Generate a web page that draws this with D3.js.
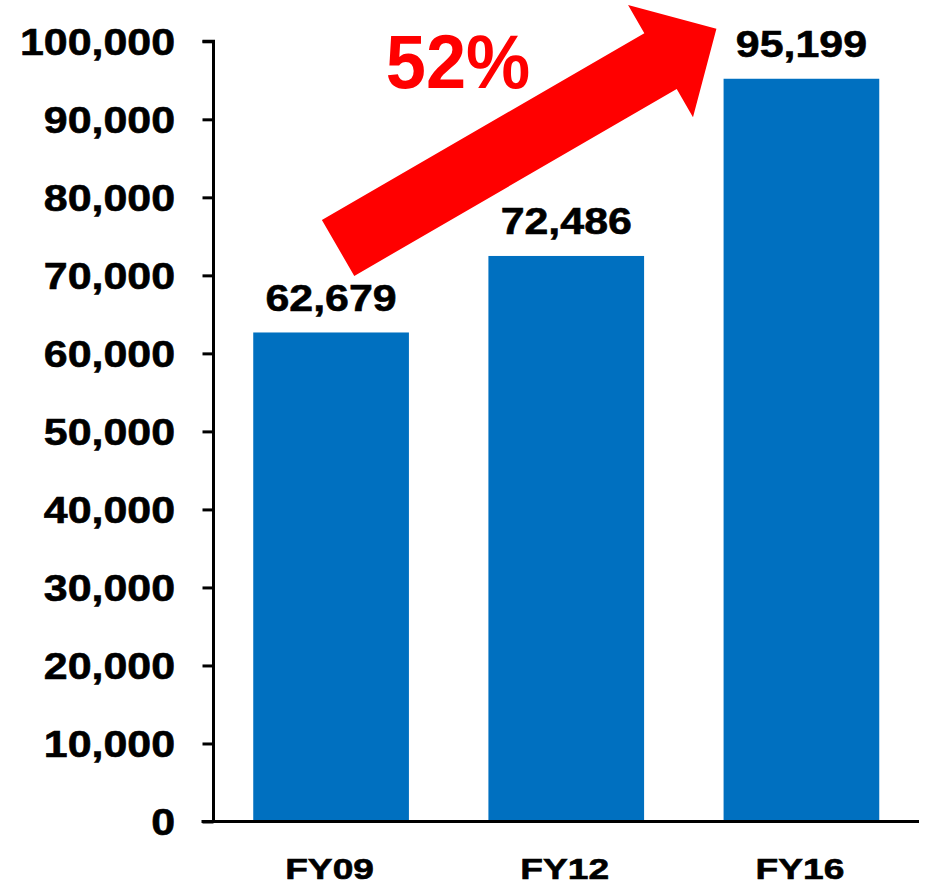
<!DOCTYPE html>
<html>
<head>
<meta charset="utf-8">
<script src="https://cdn.jsdelivr.net/npm/d3@7"></script>
<style>
  html, body { margin: 0; padding: 0; background: #fff; }
  text { font-family: "Liberation Sans", Arial, sans-serif; font-weight: bold; }
</style>
</head>
<body>
<svg id="chart" width="927" height="892"></svg>
<script>
// Annual totals by fiscal year
const categories = ["FY09", "FY12", "FY16"];
const values = [62679, 72486, 95199];
const tickValues = [0, 10000, 20000, 30000, 40000, 50000, 60000, 70000, 80000, 90000, 100000];
const growthLabel = "52%";

const W = 927, H = 892;
const margin = { left: 213.5, right: 8, top: 41.3, bottom: 70.5 };
const svg = d3.select("#chart");

const x = d3.scaleBand()
  .domain(categories)
  .range([margin.left, W - margin.right])
  .paddingInner(0.338)
  .paddingOuter(0.169);

const y = d3.scaleLinear()
  .domain([0, 100000])
  .range([H - margin.bottom, margin.top]);

const fmt = d3.format(",");

// Bars
svg.append("g")
  .selectAll("rect")
  .data(values)
  .join("rect")
  .attr("x", (d, i) => x(categories[i]))
  .attr("y", d => y(d))
  .attr("width", x.bandwidth())
  .attr("height", d => y(0) - y(d))
  .attr("fill", "#0070C0");

// Y axis
const yAxis = svg.append("g")
  .attr("transform", `translate(${margin.left},0)`)
  .call(d3.axisLeft(y).tickValues(tickValues).tickFormat(fmt).tickSize(11).tickPadding(0));
yAxis.select(".domain").attr("stroke", "#000").attr("stroke-width", 3)
  .attr("d", `M-11,${y(100000)}H0V${y(0)}`);
yAxis.selectAll(".tick line").attr("stroke", "#000").attr("stroke-width", 3);
yAxis.selectAll(".tick text").remove();
yAxis.selectAll(".tick").append("text")
  .attr("fill", "#000")
  .attr("stroke", "#000")
  .attr("stroke-width", 0.6)
  .attr("font-size", 37)
  .attr("text-anchor", "end")
  .attr("transform", "translate(-38.5,0) scale(1.16,1)")
  .attr("dy", "0.358em")
  .text(d => fmt(d));

// X axis
const xAxis = svg.append("g")
  .attr("transform", `translate(0,${y(0)})`)
  .call(d3.axisBottom(x).tickSize(0).tickPadding(0));
xAxis.select(".domain").attr("stroke", "#000").attr("stroke-width", 3)
  .attr("d", `M${margin.left - 12},0H${W - margin.right}`);
xAxis.selectAll(".tick text").remove();
xAxis.selectAll(".tick").append("text")
  .attr("fill", "#000")
  .attr("stroke", "#000")
  .attr("stroke-width", 0.6)
  .attr("font-size", 29.5)
  .attr("text-anchor", "middle")
  .attr("transform", "translate(-1.5,57.8) scale(1.26,1)")
  .text(d => d);

// Value labels above bars
svg.append("g")
  .selectAll("text")
  .data(values)
  .join("text")
  .attr("text-anchor", "middle")
  .attr("font-size", 37)
  .attr("fill", "#000")
  .attr("stroke", "#000")
  .attr("stroke-width", 0.6)
  .attr("transform", (d, i) => `translate(${x(categories[i]) + x.bandwidth() / 2},${y(d) - 21.5}) scale(1.16,1)`)
  .text(d => fmt(d));

// Growth arrow from the first bar to the last
const bw = x.bandwidth();
const tail = [x(categories[0]) + bw / 2 + 7, y(values[0]) - 84.5];
const tip = [x(categories[2]) + bw / 2 - 85, y(values[2]) - 50];
const dx = tip[0] - tail[0], dy = tip[1] - tail[1];
const len = Math.hypot(dx, dy);
const angle = Math.atan2(dy, dx) * 180 / Math.PI;
const shaftW = 64.6, headW = 129.5, headL = 64.6;
const arrowPts = [
  [0, -shaftW / 2],
  [len - headL, -shaftW / 2],
  [len - headL, -headW / 2],
  [len, 0],
  [len - headL, headW / 2],
  [len - headL, shaftW / 2],
  [0, shaftW / 2]
];
svg.append("path")
  .attr("transform", `translate(${tail[0]},${tail[1]}) rotate(${angle})`)
  .attr("d", d3.line()(arrowPts) + "Z")
  .attr("fill", "#FF0000");

svg.append("text")
  .attr("text-anchor", "middle")
  .attr("font-size", 76)
  .attr("fill", "#FF0000")
  .attr("transform", "translate(458,88) scale(0.95,1)")
  .text(growthLabel);
</script>
</body>
</html>
